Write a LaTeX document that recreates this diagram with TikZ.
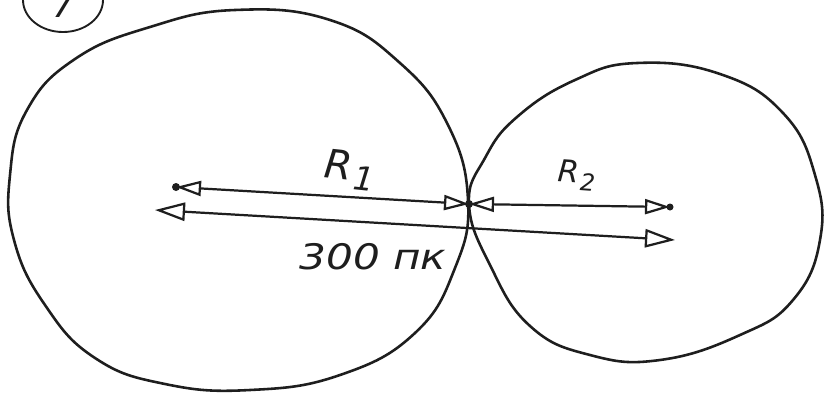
\documentclass[tikz,border=0pt]{standalone}
\usepackage{fontspec}
\setmainfont{DejaVu Sans}
\usetikzlibrary{arrows.meta}
\definecolor{ink}{HTML}{1E1E1E}

\begin{document}
\begin{tikzpicture}[x=0.3mm,y=-0.3mm,line width=1.9pt,draw=ink,
    >={Triangle[open,length=7.5mm,width=4.5mm]}]

\useasboundingbox (0,0) rectangle (826,405);
\fill[white] (0,0) rectangle (826,405);

% Problem number
\draw[line width=1.6pt] (63,0) ellipse [x radius=40, y radius=32];
\node[anchor=base,text=ink] (num) at (64,17)
    {\fontsize{30}{30}\selectfont\itshape 7};

% Left sphere
\draw[line width=2.2pt]
    plot[smooth cycle,tension=0.75] coordinates {
    (235,10) (330,20) (400,63) (448,125) (468,200) (455,268)
    (415,333) (340,375) (250,390) (165,384) (95,358) (45,305)
    (14,240) (10,175) (27,110) (75,59) (150,27)};

% Right sphere
\draw[line width=2.2pt]
    plot[smooth cycle,tension=0.75] coordinates {
    (637,63) (720,74) (783,113) (815,175) (820,240) (793,300)
    (740,335) (660,360) (590,355) (530,326) (490,265) (469,204)
    (485,158) (517,117) (575,80)};

% Arrow end points
\coordinate (cL) at (176,187);
\coordinate (touch) at (469,204);
\coordinate (cR) at (670,207);
\coordinate (dL) at (155,210);
\coordinate (dR) at (675,240);

\fill[ink] (cL) circle (4);
\fill[ink] (cR) circle (3.5);
\fill[ink] (touch) circle (4);

% Radii
\draw[<->] (cL) -- (touch);
\draw[<->] (touch) -- (cR);

% Distance
\draw[<->,>={Triangle[open,length=9mm,width=5.5mm]}] (dL) -- (dR);

% Labels
\node[text=ink,rotate=-6] (rone) at (350,170)
    {\fontsize{34}{34}\selectfont\itshape R\kern2pt\raisebox{-0.4ex}{\fontsize{28}{28}\selectfont 1}};
\node[text=ink,rotate=-4] (rtwo) at (577,175)
    {\fontsize{26}{26}\selectfont\itshape R\kern1pt\raisebox{-0.45ex}{\fontsize{20}{20}\selectfont 2}};
\node[text=ink,xscale=1.2] (dist) at (373,257)
    {\fontsize{30}{30}\selectfont\itshape 300 пк};

\end{tikzpicture}
\end{document}
